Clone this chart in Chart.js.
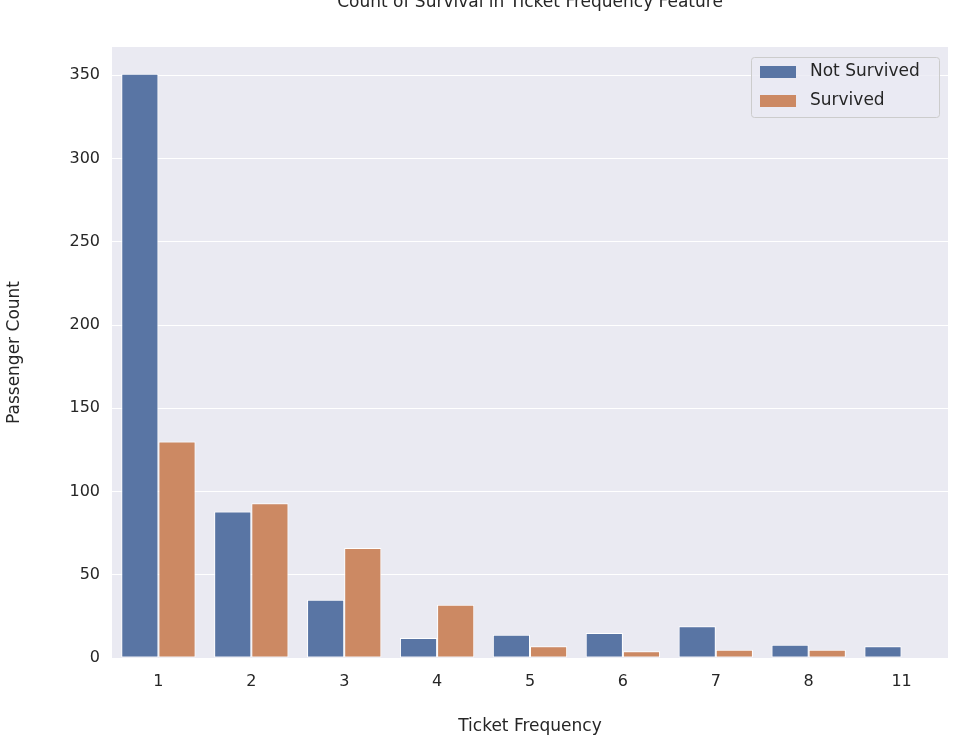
<!DOCTYPE html>
<html lang="en">
<head>
<meta charset="UTF-8">
<title>Count of Survival in Ticket Frequency Feature</title>
<script src="https://cdn.jsdelivr.net/npm/chart.js@4"></script>
<style>
  html, body { margin: 0; padding: 0; background: #fff; }
  #wrap { width: 959px; height: 741px; }
</style>
</head>
<body>
<div id="wrap"><canvas id="chart" width="959" height="741"></canvas></div>
<script>
const categories = ['1', '2', '3', '4', '5', '6', '7', '8', '11'];
const notSurvived = [351, 88, 35, 12, 14, 15, 19, 8, 7];
const survived = [130, 93, 66, 32, 7, 4, 5, 5, 0];
const yTicks = [0, 50, 100, 150, 200, 250, 300, 350];

const font = 'DejaVu Sans';
const textColor = '#262626';

// seaborn-ish background, title and legend
const decor = {
  id: 'decor',
  beforeDraw(chart) {
    const { ctx, chartArea: a } = chart;
    ctx.save();
    ctx.fillStyle = '#eaeaf2';
    ctx.fillRect(a.left, a.top, a.right - a.left, a.bottom - a.top);
    ctx.restore();
  },
  afterDraw(chart) {
    const { ctx, chartArea: a } = chart;
    ctx.save();
    ctx.fillStyle = textColor;
    ctx.font = '17px "' + font + '"';
    ctx.textAlign = 'center';
    ctx.textBaseline = 'middle';
    ctx.fillText('Count of Survival in Ticket Frequency Feature', (a.left + a.right) / 2, 3);

    // legend box
    const bx = 751, by = 57, bw = 188, bh = 60;
    ctx.fillStyle = 'rgba(234,234,242,0.8)';
    ctx.strokeStyle = '#cccccc';
    ctx.lineWidth = 1;
    ctx.beginPath();
    ctx.roundRect(bx + 0.5, by + 0.5, bw, bh, 3);
    ctx.fill();
    ctx.stroke();
    ctx.font = '17px "' + font + '"';
    ctx.textAlign = 'left';
    chart.data.datasets.forEach((ds, i) => {
      const y = by + 15 + i * 29;
      ctx.fillStyle = ds.backgroundColor;
      ctx.fillRect(bx + 9, y - 6, 36, 12);
      ctx.fillStyle = textColor;
      ctx.fillText(ds.label, bx + 59, y);
    });
    ctx.restore();
  }
};

new Chart(document.getElementById('chart'), {
  type: 'bar',
  data: {
    labels: categories,
    datasets: [
      { label: 'Not Survived', data: notSurvived, backgroundColor: '#5975a4', borderColor: '#ffffff', borderWidth: 1, borderSkipped: false },
      { label: 'Survived', data: survived, backgroundColor: '#cc8963', borderColor: '#ffffff', borderWidth: 1, borderSkipped: false }
    ]
  },
  options: {
    responsive: false,
    animation: false,
    layout: { padding: { top: 47, right: 11, left: 0, bottom: 0 } },
    plugins: { legend: { display: false }, tooltip: { enabled: false } },
    datasets: { bar: { categoryPercentage: 0.8, barPercentage: 1 } },
    scales: {
      x: {
        grid: { display: false },
        border: { display: false },
        ticks: { color: textColor, font: { family: font, size: 16 }, padding: 6 },
        title: { display: true, text: 'Ticket Frequency', color: textColor, font: { family: font, size: 17 }, padding: { top: 18 } },
        afterFit(s) { s.height = 83; }
      },
      y: {
        min: 0,
        max: 367,
        afterBuildTicks(s) { s.ticks = yTicks.map(v => ({ value: v })); },
        grid: { color: '#ffffff', lineWidth: 1, drawTicks: false },
        border: { display: false },
        ticks: { color: textColor, font: { family: font, size: 16 }, padding: 12 },
        title: { display: true, text: 'Passenger Count', color: textColor, font: { family: font, size: 17 }, padding: { bottom: 10 } },
        afterFit(s) { s.width = 112; }
      }
    }
  },
  plugins: [decor]
});
</script>
</body>
</html>
